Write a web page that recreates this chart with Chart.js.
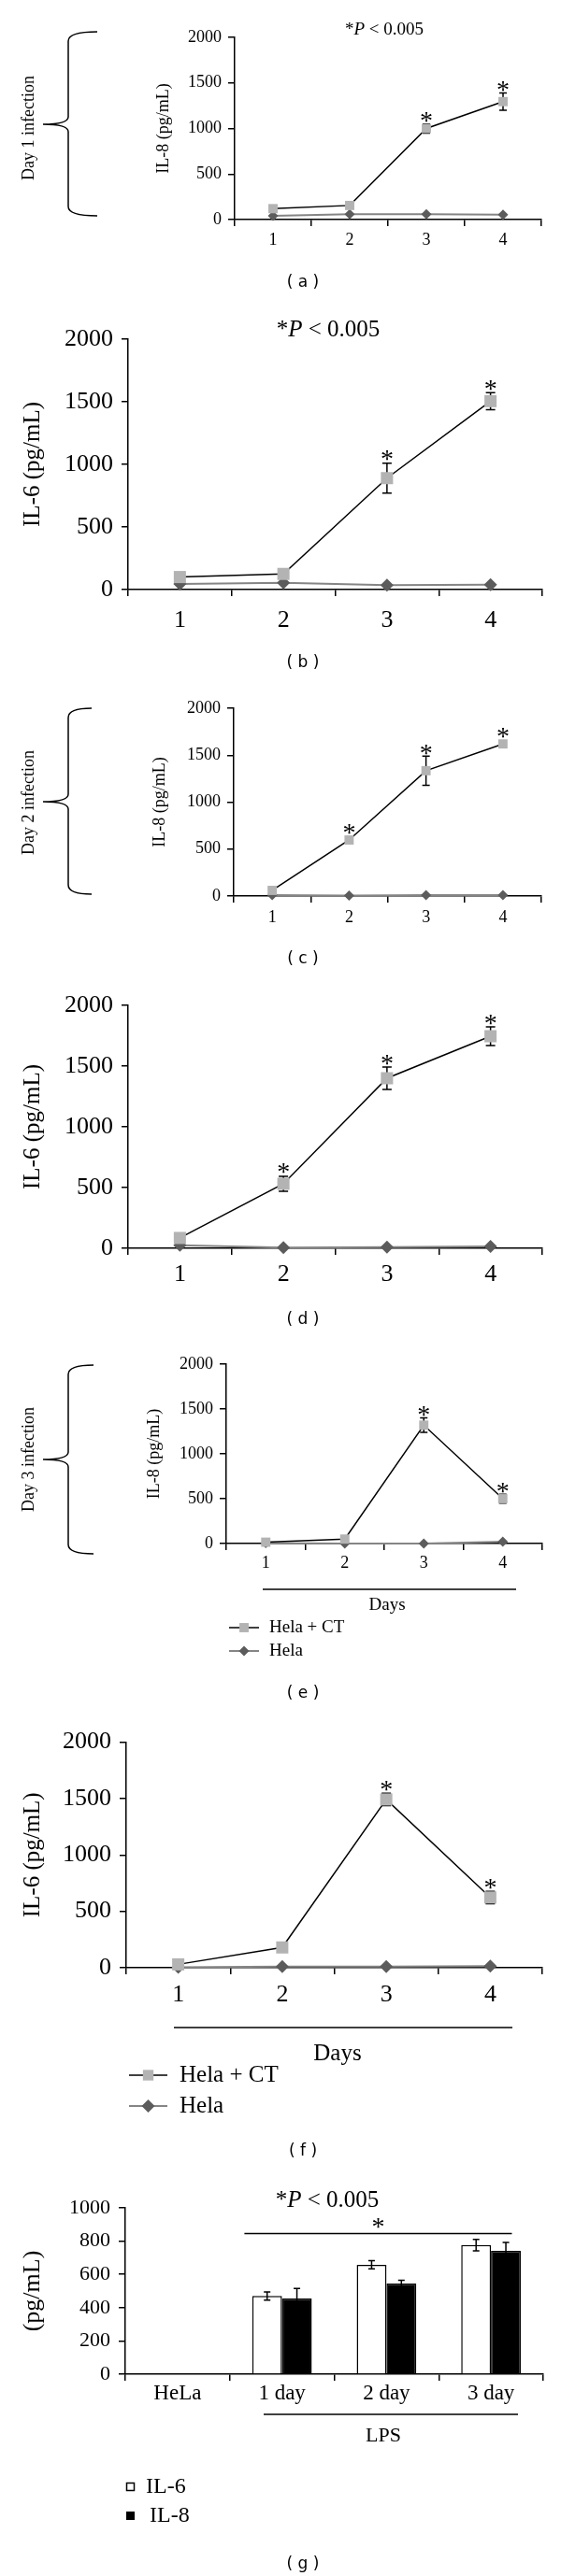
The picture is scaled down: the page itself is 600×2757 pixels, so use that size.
<!DOCTYPE html>
<html>
<head>
<meta charset="utf-8">
<script src="https://cdn.jsdelivr.net/npm/chart.js@4.4.1/dist/chart.umd.min.js"></script>
<style>
  html, body { margin: 0; padding: 0; background: #fff; }
  #wrap { position: relative; width: 600px; height: 2757px; background: #fff; overflow: hidden; }
  #wrap canvas { position: absolute; left: 0; }
</style>
</head>
<body>
<div id="wrap">
  <canvas id="cA"></canvas>
  <canvas id="cB"></canvas>
  <canvas id="cC"></canvas>
  <canvas id="cD"></canvas>
  <canvas id="cE"></canvas>
  <canvas id="cF"></canvas>
  <canvas id="cG"></canvas>
</div>
<script>
// ---- data ----
const days = ['1', '2', '3', '4'];

// (a) IL-8, day 1 infection
const aCt = [120, 155, 1000, 1295];
const aCtErr = [0, 0, 50, 95];
const aHela = [40, 60, 60, 55];
const aStar = [false, false, true, true];

// (b) IL-6, day 1 infection
const bCt = [100, 125, 890, 1505];
const bCtErr = [0, 0, 120, 68];
const bHela = [45, 55, 35, 40];
const bStar = [false, false, true, true];

// (c) IL-8, day 2 infection
const cCt = [60, 597, 1335, 1620];
const cCtErr = [0, 20, 155, 30];
const cHela = [10, 5, 10, 10];
const cStar = [false, true, true, true];

// (d) IL-6, day 2 infection
const dCt = [85, 531, 1400, 1746];
const dCtErr = [0, 62, 92, 77];
const dHela = [25, 5, 10, 15];
const dStar = [false, true, true, true];

// (e) IL-8, day 3 infection
const eCt = [15, 50, 1320, 500];
const eCtErr = [0, 0, 80, 50];
const eHela = [5, 0, 0, 20];
const eStar = [false, false, true, true];

// (f) IL-6, day 3 infection
const fCt = [30, 180, 1492, 623];
const fCtErr = [0, 0, 55, 55];
const fHela = [5, 10, 10, 15];
const fStar = [false, false, true, true];

// (g) LPS bars
const groups = ['HeLa', '1 day', '2 day', '3 day'];
const il6 = [0, 470, 658, 776];
const il6Err = [0, 25, 25, 35];
const il8 = [0, 455, 545, 742];
const il8Err = [0, 60, 20, 50];

const SERIF = "'Liberation Serif', 'Times New Roman', serif";
const SANS = "'DejaVu Sans', sans-serif";
const CT_GREY = '#b3b3b3';
const HELA_GREY = '#5c5c5c';
const HELA_LINE = '#858585';

// ---- drawing helpers ----
function centerText(ctx, s, x, cy) {
  const m = ctx.measureText(s);
  ctx.textBaseline = 'alphabetic';
  ctx.fillText(s, x, cy + (m.actualBoundingBoxAscent - m.actualBoundingBoxDescent) / 2);
}

function text(ctx, s, x, y, font, align) {
  ctx.save();
  ctx.font = font;
  ctx.fillStyle = '#000';
  ctx.textAlign = align || 'center';
  ctx.textBaseline = 'middle';
  ctx.fillText(s, x, y);
  ctx.restore();
}

function rotText(ctx, s, x, y, font) {
  ctx.save();
  ctx.translate(x, y);
  ctx.rotate(-Math.PI / 2);
  text(ctx, s, 0, 0, font);
  ctx.restore();
}

function pText(ctx, cx, cy, fs) {
  const reg = fs + 'px ' + SERIF, ital = 'italic ' + fs + 'px ' + SERIF;
  const parts = [['*', reg], ['P', ital], [' < 0.005', reg]];
  ctx.save();
  let total = 0;
  parts.forEach(p => { ctx.font = p[1]; total += ctx.measureText(p[0]).width; });
  let x = cx - total / 2;
  ctx.fillStyle = '#000';
  ctx.textAlign = 'left';
  ctx.textBaseline = 'middle';
  parts.forEach(p => { ctx.font = p[1]; ctx.fillText(p[0], x, cy); x += ctx.measureText(p[0]).width; });
  ctx.restore();
}

function brace(ctx, tipX, spineX, endX, top, tip, bottom) {
  const r = 10;
  ctx.save();
  ctx.strokeStyle = '#000';
  ctx.lineWidth = 1.5;
  ctx.beginPath();
  ctx.moveTo(endX, top);
  ctx.quadraticCurveTo(spineX, top, spineX, top + r);
  ctx.lineTo(spineX, tip - 8);
  ctx.quadraticCurveTo(spineX, tip, tipX, tip);
  ctx.quadraticCurveTo(spineX, tip, spineX, tip + 8);
  ctx.lineTo(spineX, bottom - r);
  ctx.quadraticCurveTo(spineX, bottom, endX, bottom);
  ctx.stroke();
  ctx.restore();
}

function hLine(ctx, x1, x2, y) {
  ctx.save();
  ctx.strokeStyle = '#000';
  ctx.lineWidth = 1.5;
  ctx.beginPath();
  ctx.moveTo(x1, y);
  ctx.lineTo(x2, y);
  ctx.stroke();
  ctx.restore();
}

function errorBars(chart, dsIndex, errs, cap) {
  const ctx = chart.ctx, ys = chart.scales.y;
  const vals = chart.data.datasets[dsIndex].data;
  ctx.save();
  ctx.strokeStyle = '#000';
  ctx.lineWidth = 1.5;
  chart.getDatasetMeta(dsIndex).data.forEach((el, i) => {
    const e = errs[i];
    if (!e) return;
    const y1 = ys.getPixelForValue(vals[i] + e), y2 = ys.getPixelForValue(vals[i] - e);
    ctx.beginPath();
    ctx.moveTo(el.x, y1); ctx.lineTo(el.x, y2);
    ctx.moveTo(el.x - cap / 2, y1); ctx.lineTo(el.x + cap / 2, y1);
    ctx.moveTo(el.x - cap / 2, y2); ctx.lineTo(el.x + cap / 2, y2);
    ctx.stroke();
  });
  ctx.restore();
}

function lineLegend(ctx, x1, x2, tx, y1, y2, sq, dia, fs) {
  const mid = (x1 + x2) / 2, s = sq * Math.SQRT1_2;
  ctx.save();
  ctx.lineWidth = 1.5;
  ctx.strokeStyle = '#000';
  ctx.beginPath(); ctx.moveTo(x1, y1); ctx.lineTo(x2, y1); ctx.stroke();
  ctx.fillStyle = CT_GREY;
  ctx.fillRect(mid - s, y1 - s, 2 * s, 2 * s);
  ctx.strokeStyle = HELA_LINE;
  ctx.lineWidth = 2;
  ctx.beginPath(); ctx.moveTo(x1, y2); ctx.lineTo(x2, y2); ctx.stroke();
  ctx.fillStyle = HELA_GREY;
  ctx.beginPath();
  ctx.moveTo(mid, y2 - dia); ctx.lineTo(mid + dia, y2); ctx.lineTo(mid, y2 + dia); ctx.lineTo(mid - dia, y2);
  ctx.closePath(); ctx.fill();
  ctx.restore();
  text(ctx, 'Hela + CT', tx, y1, fs + 'px ' + SERIF, 'left');
  text(ctx, 'Hela', tx, y2, fs + 'px ' + SERIF, 'left');
}

function setupCanvas(id, top, h) {
  const c = document.getElementById(id);
  c.width = 600;
  c.height = h;
  c.style.width = '600px';
  c.style.height = h + 'px';
  c.style.top = top + 'px';
  return c;
}

function axisOpts(font, pad) {
  return {
    grid: { drawOnChartArea: false, drawTicks: true, tickLength: 7, color: '#000', lineWidth: 1.5 },
    border: { display: true, color: '#000', width: 1.5 },
    ticks: { color: '#000', font: { family: SERIF, size: font }, padding: pad }
  };
}

// ---- line panels ----
function lineChart(p) {
  const canvas = setupCanvas(p.id, p.top, p.h);
  const xAxis = axisOpts(p.tickFont, p.xPad);
  xAxis.type = 'category';
  xAxis.offset = true;
  xAxis.grid.offset = true;
  xAxis.ticks.maxRotation = 0;
  xAxis.afterFit = s => { s.height = p.h - p.plot.b; };
  const yAxis = axisOpts(p.tickFont, p.yPad);
  yAxis.min = 0;
  yAxis.max = 2000;
  yAxis.ticks.stepSize = 500;
  yAxis.ticks.callback = v => String(v);
  yAxis.title = {
    display: true, text: p.title, color: '#000',
    font: { family: SERIF, size: p.titleFont, lineHeight: 1 },
    padding: { top: p.titleX - p.titleFont / 2, bottom: 0 }
  };
  yAxis.afterFit = s => { s.width = p.plot.l; };

  return new Chart(canvas, {
    type: 'line',
    data: {
      labels: days,
      datasets: [
        {
          label: 'Hela + CT', data: p.ct, borderColor: '#000', borderWidth: 1.5,
          pointStyle: 'rect', pointRadius: p.sq, pointBackgroundColor: CT_GREY,
          pointBorderColor: CT_GREY, pointBorderWidth: 0, tension: 0, clip: false
        },
        {
          label: 'Hela', data: p.hela, borderColor: HELA_LINE, borderWidth: 2,
          pointStyle: 'rectRot', pointRadius: p.dia, pointBackgroundColor: HELA_GREY,
          pointBorderColor: HELA_GREY, pointBorderWidth: 0, tension: 0, clip: false
        }
      ]
    },
    options: {
      responsive: false,
      animation: false,
      devicePixelRatio: 1,
      layout: { padding: { left: 0, top: p.plot.t, right: 600 - p.plot.r, bottom: 0 } },
      plugins: { legend: { display: false }, tooltip: { enabled: false } },
      scales: { x: xAxis, y: yAxis }
    },
    plugins: [{
      id: 'panelExtras',
      beforeDatasetsDraw(chart) { errorBars(chart, 0, p.ctErr, p.cap); },
      afterDatasetsDraw(chart) {
        const ctx = chart.ctx, ys = chart.scales.y;
        ctx.save();
        ctx.fillStyle = '#000';
        ctx.font = '28px ' + SERIF;
        ctx.textAlign = 'center';
        chart.getDatasetMeta(0).data.forEach((pt, i) => {
          if (!p.stars[i]) return;
          const top = Math.min(ys.getPixelForValue(p.ct[i] + p.ctErr[i]), pt.y - p.sq * Math.SQRT1_2);
          centerText(ctx, '*', pt.x, top - p.starGap);
        });
        ctx.restore();
        if (p.extra) p.extra(ctx, chart);
        text(ctx, p.label, 324, p.labelY, '17px ' + SANS);
      }
    }]
  });
}

lineChart({
  id: 'cA', top: 0, h: 330, plot: { l: 251, t: 40, r: 579, b: 235 },
  tickFont: 18, yPad: 7, xPad: 4, title: 'IL-8 (pg/mL)', titleFont: 18, titleX: 175,
  sq: 7, dia: 5.5, cap: 8, starGap: 7,
  ct: aCt, ctErr: aCtErr, hela: aHela, stars: aStar, label: '( a )', labelY: 303,
  extra: ctx => {
    pText(ctx, 411, 32, 19);
    brace(ctx, 46, 73, 104, 34, 133, 231);
    rotText(ctx, 'Day 1 infection', 31, 137, '18px ' + SERIF);
  }
});

lineChart({
  id: 'cB', top: 330, h: 410, plot: { l: 137, t: 33, r: 580, b: 301 },
  tickFont: 26, yPad: 9, xPad: 11, title: 'IL-6 (pg/mL)', titleFont: 25, titleX: 35,
  sq: 9.2, dia: 7, cap: 10, starGap: 8,
  ct: bCt, ctErr: bCtErr, hela: bHela, stars: bStar, label: '( b )', labelY: 380,
  extra: ctx => { pText(ctx, 351, 23, 25); }
});

lineChart({
  id: 'cC', top: 740, h: 310, plot: { l: 250, t: 18, r: 579, b: 219 },
  tickFont: 18, yPad: 7, xPad: 5, title: 'IL-8 (pg/mL)', titleFont: 18, titleX: 171,
  sq: 7, dia: 5.5, cap: 8, starGap: 7,
  ct: cCt, ctErr: cCtErr, hela: cHela, stars: cStar, label: '( c )', labelY: 287,
  extra: ctx => {
    brace(ctx, 46, 73, 98, 18, 118, 217);
    rotText(ctx, 'Day 2 infection', 31, 119, '18px ' + SERIF);
  }
});

lineChart({
  id: 'cD', top: 1050, h: 390, plot: { l: 137, t: 26, r: 580, b: 286 },
  tickFont: 26, yPad: 9, xPad: 6, title: 'IL-6 (pg/mL)', titleFont: 25, titleX: 35,
  sq: 9.2, dia: 7, cap: 10, starGap: 8,
  ct: dCt, ctErr: dCtErr, hela: dHela, stars: dStar, label: '( d )', labelY: 363
});

lineChart({
  id: 'cE', top: 1440, h: 400, plot: { l: 242, t: 20, r: 580, b: 212 },
  tickFont: 18, yPad: 7, xPad: 3, title: 'IL-8 (pg/mL)', titleFont: 18, titleX: 165,
  sq: 7, dia: 5.5, cap: 8, starGap: 7,
  ct: eCt, ctErr: eCtErr, hela: eHela, stars: eStar, label: '( e )', labelY: 373,
  extra: ctx => {
    brace(ctx, 46, 73, 100, 21, 122, 223);
    rotText(ctx, 'Day 3 infection', 31, 122, '18px ' + SERIF);
    hLine(ctx, 281, 552, 261);
    text(ctx, 'Days', 414, 278, '19px ' + SERIF);
    lineLegend(ctx, 245, 277, 288, 302, 327, 7, 5.5, 19);
  }
});

lineChart({
  id: 'cF', top: 1840, h: 480, plot: { l: 135, t: 22, r: 580, b: 266 },
  tickFont: 26, yPad: 9, xPad: 7, title: 'IL-6 (pg/mL)', titleFont: 25, titleX: 35,
  sq: 9.2, dia: 7, cap: 10, starGap: 8,
  ct: fCt, ctErr: fCtErr, hela: fHela, stars: fStar, label: '( f )', labelY: 463,
  extra: ctx => {
    hLine(ctx, 186, 548, 330);
    text(ctx, 'Days', 361, 358, '25px ' + SERIF);
    lineLegend(ctx, 138, 179, 192, 381, 414, 8, 7, 25);
  }
});

// ---- (g) bar panel ----
(function () {
  const h = 437, plot = { l: 134, t: 43, r: 581, b: 221 };
  const canvas = setupCanvas('cG', 2320, h);
  const xAxis = axisOpts(23, 0);
  xAxis.offset = true;
  xAxis.grid.offset = true;
  xAxis.ticks.maxRotation = 0;
  xAxis.afterFit = s => { s.height = h - plot.b; };
  const yAxis = axisOpts(22, 9);
  yAxis.min = 0;
  yAxis.max = 1000;
  yAxis.ticks.stepSize = 200;
  yAxis.ticks.callback = v => String(v);
  yAxis.title = {
    display: true, text: '(pg/mL)', color: '#000',
    font: { family: SERIF, size: 26, lineHeight: 1 },
    padding: { top: 35 - 13, bottom: 0 }
  };
  yAxis.afterFit = s => { s.width = plot.l; };

  new Chart(canvas, {
    type: 'bar',
    data: {
      labels: groups,
      datasets: [
        { label: 'IL-6', data: il6, backgroundColor: '#fff', borderColor: '#000', borderWidth: 1.5,
          categoryPercentage: 0.57, barPercentage: 1 },
        { label: 'IL-8', data: il8, backgroundColor: '#000', borderColor: '#000', borderWidth: 1.5,
          categoryPercentage: 0.57, barPercentage: 1 }
      ]
    },
    options: {
      responsive: false,
      animation: false,
      devicePixelRatio: 1,
      layout: { padding: { left: 0, top: plot.t, right: 600 - plot.r, bottom: 0 } },
      plugins: { legend: { display: false }, tooltip: { enabled: false } },
      scales: { x: xAxis, y: yAxis }
    },
    plugins: [{
      id: 'barExtras',
      afterDatasetsDraw(chart) {
        const ctx = chart.ctx, xs = chart.scales.x, ys = chart.scales.y;
        errorBars(chart, 0, il6Err, 7);
        errorBars(chart, 1, il8Err, 7);
        pText(ctx, 350, 35, 25);
        // significance bracket over the LPS groups
        const cw = xs.getPixelForValue(1) - xs.getPixelForValue(0);
        const x1 = xs.getPixelForValue(1) - 0.36 * cw, x2 = xs.getPixelForValue(3) + 0.2 * cw;
        const yl = ys.getPixelForValue(845);
        hLine(ctx, x1, x2, yl);
        ctx.save();
        ctx.fillStyle = '#000';
        ctx.font = '28px ' + SERIF;
        ctx.textAlign = 'center';
        centerText(ctx, '*', (x1 + x2) / 2, yl - 11);
        ctx.restore();
        hLine(ctx, 282, 554, 264);
        text(ctx, 'LPS', 410, 287, '22px ' + SERIF);
        // legend
        ctx.save();
        ctx.lineWidth = 1.5;
        ctx.strokeStyle = '#000';
        ctx.fillStyle = '#fff';
        ctx.fillRect(135.5, 337.5, 8, 8);
        ctx.strokeRect(135.5, 337.5, 8, 8);
        ctx.fillStyle = '#000';
        ctx.fillRect(135, 368, 9, 9);
        ctx.restore();
        text(ctx, 'IL-6', 156, 342, '24px ' + SERIF, 'left');
        text(ctx, 'IL-8', 160, 373, '24px ' + SERIF, 'left');
        text(ctx, '( g )', 324, 425, '17px ' + SANS);
      }
    }]
  });
})();
</script>
</body>
</html>
